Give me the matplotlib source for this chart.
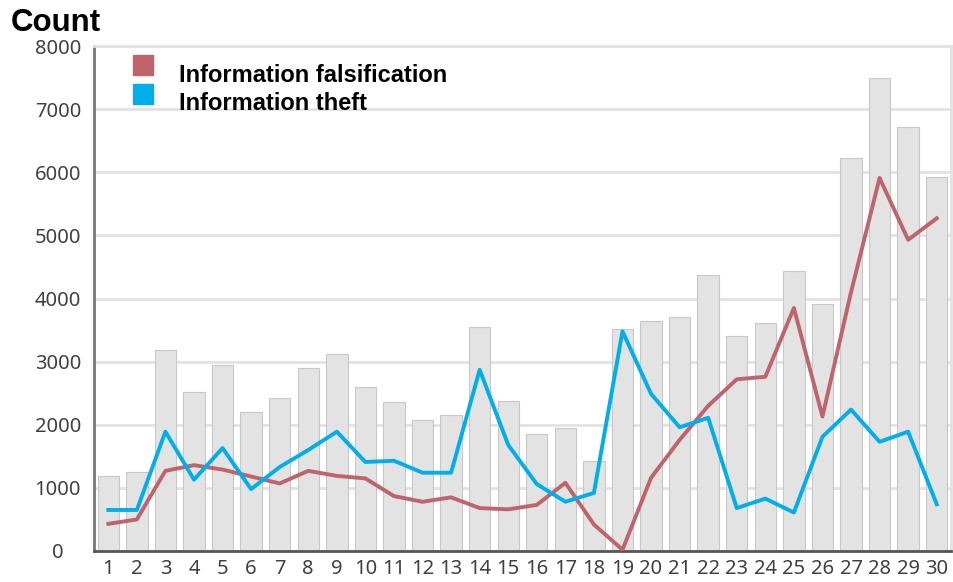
import numpy as np
import matplotlib.pyplot as plt

# data
days = [str(i) for i in range(1, 31)]
total = [1190, 1250, 3190, 2520, 2950, 2200, 2420, 2900, 3120, 2600,
         2360, 2070, 2160, 3550, 2370, 1860, 1950, 1430, 3510, 3650,
         3700, 4380, 3410, 3610, 4430, 3920, 6230, 7500, 6720, 5920]
falsification = [430, 500, 1270, 1360, 1290, 1180, 1070, 1270, 1190, 1150,
                 870, 780, 850, 680, 660, 730, 1080, 420, 20, 1160,
                 1760, 2300, 2720, 2760, 3850, 2130, 4100, 5910, 4930, 5270]
theft = [650, 650, 1890, 1130, 1630, 980, 1330, 1600, 1890, 1410,
         1430, 1240, 1240, 2870, 1680, 1060, 780, 920, 3480, 2490,
         1960, 2110, 680, 830, 610, 1810, 2240, 1730, 1890, 740]
series_names = ["Information falsification", "Information theft"]

red = "#BF646A"
blue = "#00AEEA"

W, H = 954, 582
fig = plt.figure(figsize=(W / 100, H / 100), dpi=100)
ax = fig.add_axes([94 / W, 1 - 551 / H, 857 / W, 505 / H])

x = np.arange(len(days))
ax.bar(x, total, width=0.75, color="#E3E3E3", edgecolor="#C8C8C8", linewidth=0.8, zorder=2)
ax.plot(x, falsification, color=red, lw=2.8, zorder=3)
ax.plot(x, theft, color=blue, lw=2.8, zorder=4)

ax.set_xlim(-0.5, 29.5)
ax.set_ylim(0, 8000)
ax.set_yticks(range(0, 8001, 1000))
ax.set_xticks(x)
ax.set_xticklabels(days)
ax.yaxis.grid(True, color="#E2E2E2", lw=2, zorder=0)
ax.set_axisbelow(True)
ax.tick_params(length=0, labelsize=14.5, labelcolor="#404040")
ax.tick_params(axis="x", pad=6)
ax.tick_params(axis="y", pad=26)
for lab in ax.get_xticklabels() + ax.get_yticklabels():
    lab.set_family("Noto Sans")
for lab in ax.get_yticklabels():
    lab.set_horizontalalignment("center")

for s in ["top", "right"]:
    ax.spines[s].set_color("#E2E2E2")
    ax.spines[s].set_linewidth(2)
ax.spines["left"].set_color("#777777")
ax.spines["left"].set_linewidth(2)
ax.spines["bottom"].set_color("#555555")
ax.spines["bottom"].set_linewidth(2)

fig.text(11 / W, 1 - 31 / H, "Count", fontsize=22.5, fontweight="bold",
         family="Liberation Sans", va="baseline")

# legend drawn by hand: squares and labels
for i, (name, c) in enumerate(zip(series_names, [red, blue])):
    yc = 65 + 29 * i
    fig.lines.append(plt.Line2D([143 / W], [1 - yc / H], marker="s", ls="none",
                                markersize=14.4, color=c, transform=fig.transFigure))
    fig.text(179 / W, 1 - (82 + 28 * i) / H, name, fontsize=17, fontweight="bold",
             family="Liberation Sans", va="baseline")

plt.savefig("out.png", dpi=100)
